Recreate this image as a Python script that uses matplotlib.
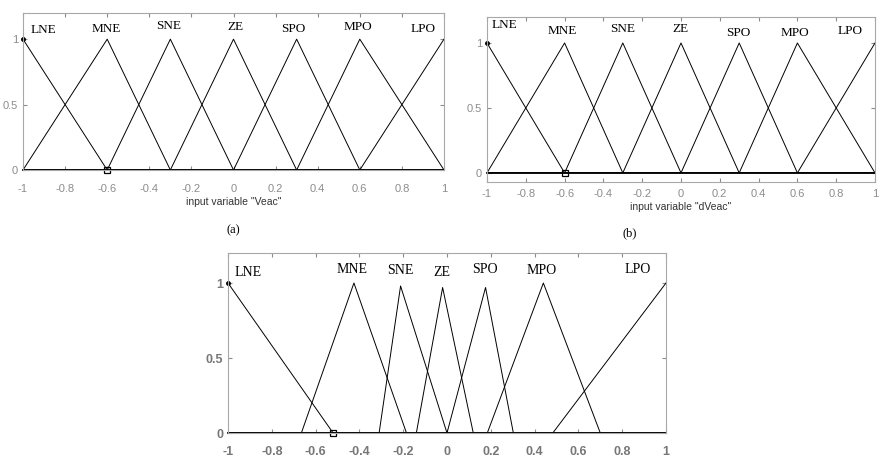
import matplotlib.pyplot as plt
import numpy as np

plt.rcParams['font.family'] = ['Liberation Sans', 'DejaVu Sans']

# membership function names
names = ['LNE', 'MNE', 'SNE', 'ZE', 'SPO', 'MPO', 'LPO']

# triangle parameters (a, b, c) and peak height
veac_mf = [(-1, -1, -0.6), (-1, -0.6, -0.3), (-0.6, -0.3, 0), (-0.3, 0, 0.3),
           (0, 0.3, 0.6), (0.3, 0.6, 1), (0.6, 1, 1)]
veac_peak = [1, 1, 1, 1, 1, 1, 1]
dveac_mf = [(-1, -1, -0.6), (-1, -0.6, -0.3), (-0.6, -0.3, 0), (-0.3, 0, 0.3),
            (0, 0.3, 0.6), (0.3, 0.6, 1), (0.6, 1, 1)]
dveac_peak = [1, 1, 1, 1, 1, 1, 1]
out_mf = [(-1, -1, -0.52), (-0.665, -0.425, -0.185), (-0.31, -0.212, 0.0),
          (-0.14, -0.02, 0.12), (0.0, 0.176, 0.303), (0.184, 0.44, 0.70),
          (0.483, 1, 1)]
out_peak = [1, 1, 0.98, 0.97, 0.97, 1, 1]

# name label anchors (x, y) in data units
veac_lbl = [(-0.905, 1.07), (-0.606, 1.08), (-0.306, 1.10), (0.007, 1.09),
            (0.283, 1.08), (0.59, 1.09), (0.90, 1.08)]
dveac_lbl = [(-0.91, 1.14), (-0.613, 1.09), (-0.30, 1.11), (-0.005, 1.11),
             (0.294, 1.08), (0.588, 1.08), (0.87, 1.09)]
out_lbl = [(-0.91, 1.07), (-0.435, 1.09), (-0.215, 1.08), (-0.023, 1.07),
           (0.173, 1.09), (0.43, 1.08), (0.87, 1.09)]

xticks = [-1, -0.8, -0.6, -0.4, -0.2, 0, 0.2, 0.4, 0.6, 0.8, 1]
xticklabels = ['-1', '-0.8', '-0.6', '-0.4', '-0.2', '0', '0.2', '0.4', '0.6', '0.8', '1']

GRAY = '#8c8c8c'


def tri(x, p, h):
    # triangular membership over [-1, 1], zero outside [a, c]
    a, b, c = p
    xs, ys = [], []
    if a > -1:
        xs.append(-1.0)
        ys.append(0.0)
    if a < b:
        xs.append(a)
        ys.append(0.0)
    xs.append(b)
    ys.append(h)
    if c > b:
        xs.append(c)
        ys.append(0.0)
    if c < 1:
        xs.append(1.0)
        ys.append(0.0)
    return np.interp(x, xs, ys)


def draw(ax, mfs, peaks, lbls, marker_x, tick_fs, lbl_fs, ylo, xpad):
    x = np.linspace(-1, 1, 2001)
    for p, h in zip(mfs, peaks):
        ax.plot(x, tri(x, p, h), color='black', lw=0.7, clip_on=False)
    for n, (lx, ly) in zip(names, lbls):
        ax.text(lx, ly, n, ha='center', va='center', fontsize=lbl_fs,
                family='Liberation Serif', color='black')
    ax.plot([marker_x], [0], marker='s', ms=4, mfc='none', mec='black',
            mew=0.9, clip_on=False)
    ax.plot([-1], [1], marker='o', ms=2.5, color='black', clip_on=False)
    ax.set_xlim(-1, 1)
    ax.set_ylim(ylo, 1.2)
    ax.set_xticks(xticks)
    ax.set_xticklabels(xticklabels)
    ax.set_yticks([0, 0.5, 1])
    ax.set_yticklabels(['0', '0.5', '1'])
    ax.tick_params(direction='in', top=True, right=True, length=3,
                   color=GRAY, labelcolor=GRAY, labelsize=tick_fs)
    ax.tick_params(axis='x', pad=xpad)
    ax.tick_params(axis='y', pad=3.5)
    for s in ax.spines.values():
        s.set_color('#a8a8a8')
        s.set_linewidth(0.8)


fig = plt.figure(figsize=(8.81, 4.61), dpi=100)

ax1 = fig.add_axes([23 / 881, 1 - 170 / 461, 421 / 881, 157 / 461])
draw(ax1, veac_mf, veac_peak, veac_lbl, -0.6, 8, 9.5, 0, 10)
ax1.set_xlabel('input variable "Veac"', fontsize=7.5, color='#333333', labelpad=2)

ax2 = fig.add_axes([487 / 881, 1 - 182 / 461, 388 / 881, 165 / 461])
draw(ax2, dveac_mf, dveac_peak, dveac_lbl, -0.6, 8, 9.5, -0.07, 5)
ax2.set_xlabel('input variable "dVeac"', fontsize=7.5, color='#333333', labelpad=2)

ax3 = fig.add_axes([228 / 881, 1 - 433 / 461, 438 / 881, 180 / 461])
draw(ax3, out_mf, out_peak, out_lbl, -0.52, 9, 10, 0, 9.5)
ax3.tick_params(labelcolor='#777777')
for t in ax3.get_xticklabels() + ax3.get_yticklabels():
    t.set_fontweight('bold')

fig.text(233 / 881, 1 - 230 / 461, '(a)', ha='center', va='center',
         fontsize=9, family='Liberation Serif')
fig.text(630 / 881, 1 - 233 / 461, '(b)', ha='center', va='center',
         fontsize=9, family='Liberation Serif')

fig.savefig('out.png', dpi=100)
